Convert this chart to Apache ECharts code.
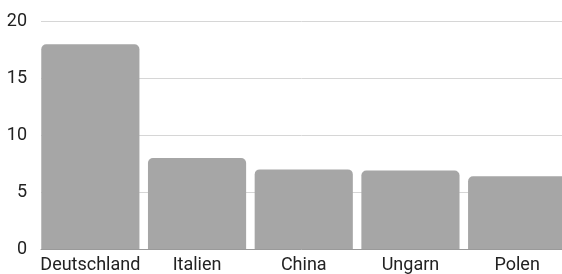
<!DOCTYPE html>
<html>
<head>
<meta charset="utf-8">
<script src="https://cdn.jsdelivr.net/npm/echarts@6/dist/echarts.min.js"></script>
<style>
  html, body { margin: 0; padding: 0; background: #fff; }
  #chart { width: 562px; height: 274px; }
</style>
</head>
<body>
<div id="chart"></div>
<script>
  // Länder und Werte
  var categories = ['Deutschland', 'Italien', 'China', 'Ungarn', 'Polen'];
  var values = [18, 8, 7, 6.9, 6.4];
  var yTicks = { min: 0, max: 20, interval: 5 };

  var textColor = '#222222';
  var fontFamily = 'Roboto';

  var chart = echarts.init(document.getElementById('chart'));
  var option = {
    animation: false,
    backgroundColor: '#ffffff',
    grid: [
      // Raster + y-Achse
      { left: 41, right: 0, top: 21.5, bottom: 25, outerBoundsMode: 'none' },
      // Balken (etwas breiter, rechts abgeschnitten)
      { left: 37, width: 533.5, top: 21.5, bottom: 25, outerBoundsMode: 'none' }
    ],
    xAxis: [
      {
        gridIndex: 0,
        type: 'value',
        min: 0, max: 1,
        axisLine: { show: true, lineStyle: { color: '#9a9a9a', width: 1 } },
        axisTick: { show: false },
        axisLabel: { show: false },
        splitLine: { show: false }
      },
      {
        gridIndex: 1,
        type: 'category',
        data: categories,
        axisLine: { show: false },
        axisTick: { show: false },
        axisLabel: {
          interval: 0,
          color: textColor,
          fontSize: 18,
          fontFamily: fontFamily,
          margin: 7
        }
      }
    ],
    yAxis: [
      {
        gridIndex: 0,
        type: 'value',
        min: yTicks.min,
        max: yTicks.max,
        interval: yTicks.interval,
        axisLine: { show: false },
        axisTick: { show: false },
        axisLabel: {
          color: textColor,
          fontSize: 18,
          fontFamily: fontFamily,
          margin: 14
        },
        splitLine: { lineStyle: { color: '#d6d6d6', width: 1 } }
      },
      {
        gridIndex: 1,
        type: 'value',
        min: yTicks.min,
        max: yTicks.max,
        interval: yTicks.interval,
        show: false,
        splitLine: { show: false }
      }
    ],
    series: [{
      type: 'bar',
      xAxisIndex: 1,
      yAxisIndex: 1,
      data: values,
      barCategoryGap: '8%',
      itemStyle: {
        color: '#a6a6a6',
        borderRadius: [5, 5, 0, 0]
      }
    }]
  };
  chart.setOption(option);
</script>
</body>
</html>
